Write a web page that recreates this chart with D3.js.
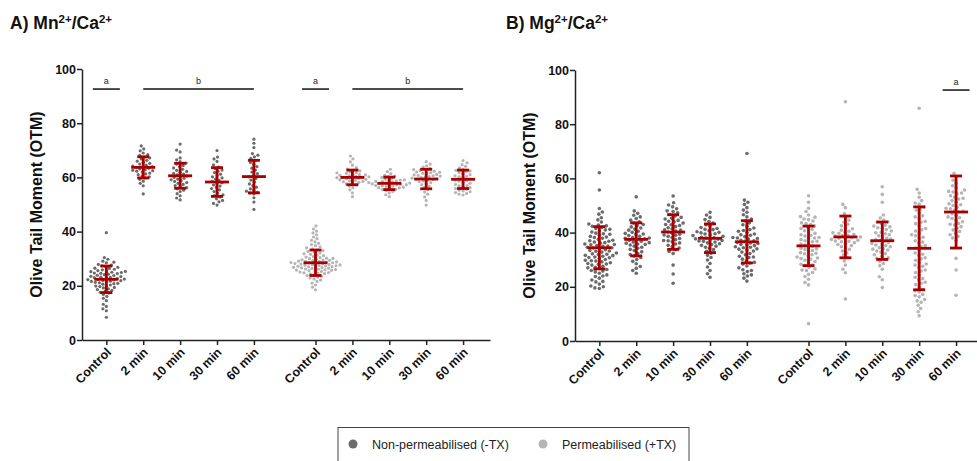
<!DOCTYPE html>
<html>
<head>
<meta charset="utf-8">
<script src="https://cdn.jsdelivr.net/npm/d3@7"></script>
<style>
  body { margin: 0; background: #fff; }
  svg { font-family: "Liberation Sans", Arial, sans-serif; }
</style>
</head>
<body>
<div id="chart"></div>
<script>
// Overall canvas
const width = 977;
const height = 461;

// Category labels (same for both panels) and their slot positions on the x axis
const groupLabels = ["Control", "2 min", "10 min", "30 min", "60 min",
                     "Control", "2 min", "10 min", "30 min", "60 min"];
const slots = [0, 1, 2, 3, 4, 5.67, 6.67, 7.67, 8.67, 9.67];
const yTicks = [0, 20, 40, 60, 80, 100];

// Panel A (Mn2+/Ca2+) — individual values
const mnNonPerm = [
  [39.6, 30.4, 29.8, 29.1, 28.7, 28.5, 27.9, 27.6, 27.4, 27.0, 26.8, 26.5, 26.4, 26.1, 25.9, 25.6, 25.5, 25.2, 25.0, 24.9, 24.6, 24.5, 24.3, 24.1, 23.9, 23.8, 23.5, 23.4, 23.2, 23.0, 22.9, 22.7, 22.5, 22.4, 22.2, 22.0, 21.9, 21.7, 21.5, 21.3, 21.1, 20.9, 20.8, 20.6, 20.3, 20.1, 19.9, 19.7, 19.4, 19.2, 18.9, 18.6, 18.3, 18.0, 17.6, 17.3, 16.8, 16.1, 15.4, 14.5, 13.2, 12.4, 11.5, 10.8, 8.4, 23.1, 22.3, 24.7, 21.6, 25.3],
  [71.6, 70.5, 69.8, 69.0, 68.4, 68.1, 67.5, 67.2, 66.8, 66.3, 66.0, 65.6, 65.2, 64.9, 64.5, 64.2, 64.0, 63.7, 63.4, 63.1, 62.8, 62.5, 62.3, 62.0, 61.6, 61.3, 61.0, 60.6, 60.2, 59.8, 59.3, 58.6, 57.8, 56.9, 53.9, 63.9, 62.6],
  [72.3, 70.1, 69.4, 67.2, 66.5, 65.8, 65.3, 64.9, 64.4, 63.9, 63.5, 63.0, 62.6, 62.2, 61.9, 61.5, 61.2, 60.9, 60.5, 60.2, 60.0, 59.7, 59.4, 59.1, 58.8, 58.5, 58.1, 57.8, 57.4, 57.0, 56.6, 56.2, 55.8, 55.3, 54.8, 54.0, 53.2, 52.4, 51.7],
  [69.9, 67.5, 66.8, 65.9, 64.6, 63.8, 63.3, 62.7, 62.3, 61.8, 61.2, 60.7, 60.2, 59.8, 59.4, 58.9, 58.5, 58.0, 57.7, 57.2, 56.8, 56.3, 55.9, 55.4, 54.8, 54.2, 53.6, 53.3, 52.8, 52.1, 51.5, 51.0, 50.4, 49.8],
  [74.1, 72.6, 71.0, 68.8, 68.2, 67.6, 67.0, 66.2, 65.5, 64.8, 64.0, 63.4, 62.7, 62.0, 61.4, 60.8, 60.2, 59.6, 59.0, 58.3, 57.6, 57.0, 56.4, 55.8, 55.3, 54.9, 54.5, 54.2, 53.9, 52.5, 50.9, 48.2]
];
const mnPerm = [
  [42.1, 41.0, 40.2, 39.5, 38.8, 38.0, 37.4, 36.8, 36.2, 35.7, 35.2, 34.8, 34.4, 34.0, 33.6, 33.3, 33.0, 32.7, 32.4, 32.1, 31.8, 31.6, 31.3, 31.1, 30.8, 30.6, 30.4, 30.2, 30.0, 29.8, 29.6, 29.4, 29.3, 29.1, 28.9, 28.8, 28.6, 28.5, 28.3, 28.2, 28.0, 27.9, 27.7, 27.6, 27.4, 27.3, 27.1, 27.0, 26.8, 26.7, 26.5, 26.4, 26.2, 26.0, 25.9, 25.7, 25.5, 25.3, 25.1, 24.9, 24.7, 24.5, 24.3, 24.0, 23.8, 23.5, 23.2, 22.9, 22.5, 22.1, 21.6, 21.0, 20.3, 19.5, 18.5, 29.0, 28.4, 27.8, 27.2, 26.6, 26.1, 25.6, 28.1, 29.5, 27.5, 26.9, 25.8, 30.1, 24.8, 28.7],
  [67.9, 66.8, 65.7, 64.5, 63.6, 63.1, 62.7, 62.4, 62.0, 61.7, 61.5, 61.2, 61.0, 60.8, 60.6, 60.4, 60.2, 60.0, 59.9, 59.7, 59.5, 59.3, 59.1, 58.9, 58.7, 58.5, 58.2, 57.9, 57.6, 57.2, 56.8, 56.2, 55.4, 54.3, 52.9, 60.1, 59.6, 60.9, 61.8, 58.4],
  [63.0, 62.1, 61.4, 60.8, 60.3, 60.0, 59.7, 59.4, 59.1, 58.9, 58.7, 58.5, 58.3, 58.1, 57.9, 57.8, 57.6, 57.4, 57.2, 57.0, 56.8, 56.6, 56.4, 56.2, 55.9, 55.6, 55.2, 54.8, 54.3, 53.6, 52.9, 58.0, 57.5, 56.9, 58.6, 59.0, 57.3, 56.1, 55.5, 60.5],
  [65.8, 64.9, 64.3, 63.8, 63.3, 62.9, 62.6, 62.3, 62.0, 61.7, 61.4, 61.1, 60.9, 60.7, 60.5, 60.3, 60.1, 59.9, 59.7, 59.5, 59.3, 59.0, 58.7, 58.4, 58.1, 57.7, 57.3, 56.8, 56.2, 55.5, 54.6, 53.8, 52.8, 51.5, 49.8, 61.5, 60.6, 62.8, 61.9, 59.2],
  [66.2, 65.4, 64.7, 64.1, 63.5, 63.0, 62.6, 62.2, 61.8, 61.4, 61.0, 60.6, 60.2, 59.8, 59.4, 59.0, 58.6, 58.2, 57.8, 57.4, 57.0, 56.6, 56.2, 55.9, 55.6, 55.3, 55.0, 54.7, 54.4, 54.1, 53.8, 53.5, 62.4, 60.4, 58.8, 56.9]
];
// mean and SD per group (red bars)
const mnMeans = [22.4, 63.7, 60.6, 58.3, 60.3, 28.5, 60.0, 57.8, 59.4, 59.3];
const mnSD = [4.9, 3.9, 4.6, 5.3, 6.0, 4.7, 2.7, 2.3, 3.6, 3.4];

// Panel B (Mg2+/Ca2+)
const mgNonPerm = [
  [62.1, 55.7, 48.9, 47.6, 46.8, 45.5, 44.7, 43.9, 43.2, 42.8, 42.3, 41.9, 41.5, 41.0, 40.6, 40.2, 39.8, 39.4, 39.0, 38.6, 38.2, 37.9, 37.5, 37.2, 36.8, 36.5, 36.1, 35.8, 35.5, 35.2, 34.9, 34.6, 34.3, 34.0, 33.7, 33.4, 33.1, 32.8, 32.5, 32.2, 31.9, 31.6, 31.3, 31.0, 30.7, 30.4, 30.1, 29.8, 29.5, 29.2, 28.9, 28.6, 28.3, 28.0, 27.6, 27.2, 26.8, 26.4, 26.0, 25.5, 25.0, 24.4, 23.8, 23.2, 22.5, 21.8, 21.0, 20.3, 19.6, 19.4, 42.5, 41.2, 39.6, 38.4, 37.0, 35.6, 34.4, 33.2, 32.0, 30.8, 29.6, 28.4, 27.0, 25.8, 24.0, 22.0, 20.0, 36.3, 35.0, 31.5],
  [53.2, 48.0, 47.1, 46.4, 45.8, 45.2, 44.6, 44.0, 43.5, 43.0, 42.6, 42.1, 41.7, 41.3, 40.9, 40.5, 40.1, 39.7, 39.3, 38.9, 38.6, 38.2, 37.9, 37.5, 37.2, 36.8, 36.5, 36.1, 35.8, 35.4, 35.0, 34.6, 34.2, 33.8, 33.4, 32.9, 32.4, 31.9, 31.4, 30.8, 30.1, 29.4, 28.5, 27.5, 26.8, 26.0, 25.0, 37.7, 38.0, 36.3, 39.5, 35.6],
  [53.5, 51.0, 50.2, 49.5, 48.8, 48.0, 47.3, 46.7, 46.1, 45.6, 45.0, 44.5, 44.0, 43.5, 43.0, 42.6, 42.2, 41.8, 41.4, 41.0, 40.6, 40.2, 39.8, 39.4, 39.0, 38.6, 38.2, 37.8, 37.4, 37.0, 36.6, 36.2, 35.8, 35.3, 34.8, 34.3, 33.7, 33.0, 32.3, 28.0, 24.7, 21.3, 44.2, 42.9, 40.9, 39.1, 37.1, 45.3, 47.8],
  [47.5, 46.5, 45.6, 44.8, 44.1, 43.5, 42.9, 42.4, 41.9, 41.5, 41.1, 40.7, 40.3, 39.9, 39.5, 39.2, 38.9, 38.6, 38.3, 38.0, 37.7, 37.4, 37.1, 36.8, 36.5, 36.2, 35.9, 35.6, 35.3, 35.0, 34.6, 34.2, 33.7, 33.1, 32.4, 31.6, 30.8, 29.9, 28.6, 27.3, 26.0, 24.8, 23.5, 39.6, 38.1, 36.9, 40.1, 37.6, 41.2],
  [69.2, 52.0, 51.2, 50.4, 49.2, 48.3, 47.5, 46.6, 45.8, 45.0, 44.3, 43.6, 42.9, 42.3, 41.7, 41.1, 40.5, 40.0, 39.5, 39.0, 38.5, 38.0, 37.6, 37.2, 36.8, 36.4, 36.0, 35.6, 35.2, 34.8, 34.4, 34.0, 33.6, 33.2, 32.8, 32.3, 31.8, 31.3, 30.8, 30.2, 29.6, 29.0, 28.4, 27.7, 27.0, 26.3, 25.6, 24.8, 24.0, 23.2, 22.1, 38.2, 37.0, 36.2, 35.4, 34.6, 37.8, 39.2, 40.8, 33.9, 31.0, 28.8, 26.0, 24.4]
];
const mgPerm = [
  [53.6, 51.2, 49.0, 47.8, 46.5, 45.7, 45.0, 44.3, 43.6, 43.0, 42.4, 41.8, 41.2, 40.7, 40.2, 39.7, 39.2, 38.7, 38.2, 37.8, 37.4, 37.0, 36.6, 36.2, 35.8, 35.4, 35.0, 34.6, 34.2, 33.8, 33.4, 33.0, 32.6, 32.2, 31.8, 31.4, 31.0, 30.6, 30.2, 29.8, 29.3, 28.8, 28.3, 27.8, 27.2, 26.6, 26.0, 25.3, 24.6, 23.8, 22.8, 21.6, 20.7, 6.4, 44.8, 43.3, 41.5, 39.0, 36.8, 34.0, 32.4, 30.4, 28.0, 26.2, 45.9, 38.0],
  [88.3, 50.4, 49.2, 47.0, 45.5, 44.6, 43.8, 43.1, 42.5, 41.9, 41.4, 40.9, 40.5, 40.1, 39.7, 39.3, 39.0, 38.7, 38.4, 38.1, 37.8, 37.5, 37.2, 36.9, 36.6, 36.3, 36.0, 35.6, 35.2, 34.8, 34.3, 33.8, 33.2, 32.5, 31.7, 30.8, 29.5, 28.0, 26.5, 25.2, 15.5, 38.9, 37.9, 39.9, 36.8],
  [56.9, 54.1, 51.2, 46.5, 45.4, 44.6, 43.9, 43.3, 42.7, 42.1, 41.6, 41.1, 40.6, 40.1, 39.6, 39.2, 38.8, 38.4, 38.0, 37.6, 37.2, 36.8, 36.4, 36.0, 35.6, 35.2, 34.8, 34.4, 34.0, 33.6, 33.2, 32.8, 32.3, 31.8, 31.3, 30.7, 30.1, 29.4, 28.6, 27.8, 26.5, 23.7, 22.6, 19.7, 44.0, 42.4, 39.9, 37.4, 35.4, 33.9, 30.5, 41.8],
  [85.9, 56.0, 54.6, 53.0, 51.8, 50.5, 49.4, 48.3, 47.2, 46.2, 45.2, 44.2, 43.3, 42.4, 41.5, 40.6, 39.7, 38.8, 37.9, 37.0, 36.1, 35.2, 34.3, 33.4, 32.5, 31.6, 30.7, 29.8, 28.9, 28.0, 27.1, 26.2, 25.3, 24.4, 23.5, 22.6, 21.7, 20.8, 19.9, 19.0, 18.1, 17.2, 16.3, 15.3, 14.3, 13.2, 12.0, 10.8, 9.3, 50.9, 45.8, 41.0, 36.5, 32.0, 27.6, 23.0, 18.6, 14.8, 43.8, 39.2, 34.8, 30.3, 25.8, 21.3, 48.8, 38.3, 28.4, 16.8],
  [61.9, 60.5, 59.3, 58.2, 57.3, 56.5, 55.7, 55.0, 54.3, 53.6, 53.0, 52.4, 51.8, 51.2, 50.6, 50.0, 49.4, 48.8, 48.2, 47.6, 47.0, 46.4, 45.8, 45.2, 44.6, 44.0, 43.4, 42.8, 42.2, 41.6, 41.0, 40.4, 39.8, 39.2, 38.6, 38.0, 37.2, 30.5, 26.2, 16.9, 55.2, 52.7, 50.3, 47.9, 45.5, 43.1, 54.6, 49.0]
];
const mgMeans = [34.4, 37.5, 40.2, 37.9, 36.6, 35.1, 38.4, 37.0, 34.2, 47.6];
const mgSD = [7.8, 6.1, 6.4, 5.3, 7.8, 7.3, 7.7, 6.9, 15.3, 13.3];

// Significance letters: group span (slot index) and letter
const mnSig = [[0, 0, "a"], [1, 4, "b"], [5, 5, "a"], [6, 9, "b"]];
const mgSig = [[9, 9, "a"]];

const darkGrey = "#6b6b6b";
const lightGrey = "#b5b5b5";
const red = "#a80000";

const svg = d3.select("#chart")
  .append("svg")
  .attr("width", width)
  .attr("height", height);

// Simple beeswarm: each point goes to the nearest free x offset next to the ones already placed
function swarm(values, y, r) {
  const placed = [];
  const sorted = values.slice().sort((a, b) => a - b);
  const minDist = 2 * r + 0.5;
  sorted.forEach(v => {
    const py = y(v);
    let off = 0;
    for (let k = 0; k < 400; k++) {
      const cand = (k % 2 === 0 ? 1 : -1) * Math.ceil(k / 2) * 0.5;
      const ok = placed.every(p => Math.hypot(p.dx - cand, p.py - py) >= minDist);
      if (ok) { off = cand; break; }
    }
    placed.push({ dx: off, py: py, v: v });
  });
  return placed;
}

function drawPanel(opt) {
  const x = d3.scaleLinear().domain([-0.66, 10.4]).range([opt.left, opt.left + 408]);
  const y = d3.scaleLinear().domain([0, 100]).range([opt.bottom, opt.top]);
  const g = svg.append("g");

  // title with superscripts
  const t = g.append("text")
    .attr("x", opt.titleX)
    .attr("y", 29)
    .style("font-size", "17.5px")
    .style("font-weight", "bold")
    .attr("fill", "#111");
  opt.title.forEach(part => {
    const s = t.append("tspan").text(part[0]);
    if (part[1]) s.attr("baseline-shift", "super").style("font-size", "11.5px");
  });

  // y axis
  const yAxis = g.append("g")
    .attr("transform", `translate(${opt.left},0)`)
    .call(d3.axisLeft(y).tickValues(yTicks).tickSize(5).tickSizeOuter(0));
  yAxis.selectAll("text")
    .style("font-size", "12.5px")
    .style("font-weight", "bold")
    .style("font-family", "Liberation Sans, Arial, sans-serif")
    .attr("fill", "#111")
    .attr("x", -6);
  yAxis.selectAll("line, path").attr("stroke", "#222").attr("stroke-width", 1.5);

  // x axis
  const xAxis = g.append("g")
    .attr("transform", `translate(0,${opt.bottom})`)
    .call(d3.axisBottom(x).tickValues(slots).tickFormat((d, i) => groupLabels[i]).tickSize(5).tickSizeOuter(0));
  xAxis.selectAll("line, path").attr("stroke", "#222").attr("stroke-width", 1.5);
  xAxis.selectAll("text")
    .style("font-size", "12.5px")
    .style("font-weight", "bold")
    .style("font-family", "Liberation Sans, Arial, sans-serif")
    .attr("fill", "#111")
    .attr("text-anchor", "end")
    .attr("dy", null)
    .attr("y", 0)
    .attr("transform", "translate(5,13) rotate(-45)");

  // y label
  g.append("text")
    .attr("transform", `translate(${opt.left - 40},${(opt.top + opt.bottom) / 2}) rotate(-90)`)
    .attr("text-anchor", "middle")
    .style("font-size", "16px")
    .style("font-weight", "bold")
    .attr("fill", "#111")
    .text("Olive Tail Moment (OTM)");

  // dots
  const groups = opt.nonPerm.map((vals, i) => ({ vals, color: darkGrey, slot: slots[i] }))
    .concat(opt.perm.map((vals, i) => ({ vals, color: lightGrey, slot: slots[i + 5] })));
  groups.forEach(gr => {
    const pts = swarm(gr.vals, y, opt.r);
    g.append("g").selectAll("circle")
      .data(pts)
      .enter()
      .append("circle")
      .attr("cx", d => x(gr.slot) + d.dx)
      .attr("cy", d => d.py)
      .attr("r", opt.r)
      .attr("fill", gr.color);
  });

  // mean +/- SD bars
  const bars = g.append("g").attr("stroke", red).attr("stroke-width", 2.8).attr("fill", "none");
  opt.means.forEach((m, i) => {
    const cx = x(slots[i]);
    const hi = y(m + opt.sd[i]);
    const lo = y(m - opt.sd[i]);
    bars.append("line").attr("x1", cx).attr("x2", cx).attr("y1", hi).attr("y2", lo);
    bars.append("line").attr("x1", cx - 12).attr("x2", cx + 12).attr("y1", y(m)).attr("y2", y(m));
    bars.append("line").attr("x1", cx - 6).attr("x2", cx + 6).attr("y1", hi).attr("y2", hi);
    bars.append("line").attr("x1", cx - 6).attr("x2", cx + 6).attr("y1", lo).attr("y2", lo);
  });

  // significance lines
  opt.sig.forEach(s => {
    const pad = s[0] === s[1] ? 13.5 : 0;
    const x1 = x(slots[s[0]]) - pad;
    const x2 = x(slots[s[1]]) + pad;
    g.append("line")
      .attr("x1", x1).attr("x2", x2)
      .attr("y1", y(92.6)).attr("y2", y(92.6))
      .attr("stroke", "#111").attr("stroke-width", 1.5);
    g.append("text")
      .attr("x", (x1 + x2) / 2)
      .attr("y", y(92.6) - 5)
      .attr("text-anchor", "middle")
      .style("font-size", "9px")
      .attr("fill", "#222")
      .text(s[2]);
  });
}

drawPanel({
  left: 82, top: 69, bottom: 340, titleX: 10,
  title: [["A) Mn"], ["2+", true], ["/Ca"], ["2+", true]],
  nonPerm: mnNonPerm, perm: mnPerm, means: mnMeans, sd: mnSD, sig: mnSig, r: 1.6
});
drawPanel({
  left: 575, top: 70, bottom: 341, titleX: 506,
  title: [["B) Mg"], ["2+", true], ["/Ca"], ["2+", true]],
  nonPerm: mgNonPerm, perm: mgPerm, means: mgMeans, sd: mgSD, sig: mgSig, r: 1.8
});

// legend box
const legendItems = [
  { label: "Non-permeabilised (-TX)", color: darkGrey, x: 353 },
  { label: "Permeabilised (+TX)", color: lightGrey, x: 543 }
];
svg.append("rect")
  .attr("x", 338).attr("y", 427.5)
  .attr("width", 351).attr("height", 60)
  .attr("fill", "none").attr("stroke", "#444").attr("stroke-width", 1);
const li = svg.selectAll("g.legend")
  .data(legendItems)
  .enter()
  .append("g")
  .attr("class", "legend");
li.append("circle")
  .attr("cx", d => d.x).attr("cy", 444).attr("r", 4.5)
  .attr("fill", d => d.color);
li.append("text")
  .attr("x", d => d.x + 19).attr("y", 448.5)
  .style("font-size", "12.5px")
  .attr("fill", "#222")
  .text(d => d.label);
</script>
</body>
</html>
